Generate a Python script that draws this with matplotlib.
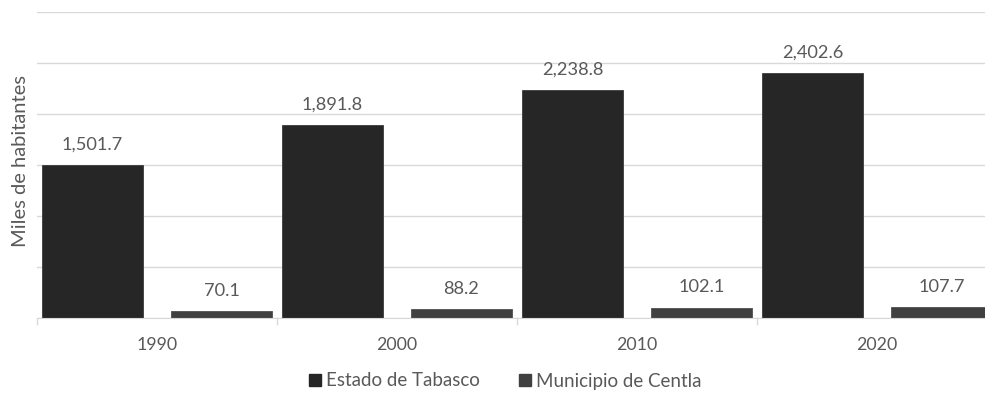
import numpy as np
import matplotlib.pyplot as plt
from matplotlib.patches import Patch

years = ['1990', '2000', '2010', '2020']
tabasco = [1501.7, 1891.8, 2238.8, 2402.6]
centla = [70.1, 88.2, 102.1, 107.7]
series_names = ['Estado de Tabasco', 'Municipio de Centla']

text_col = '#595959'
plt.rcParams['font.family'] = ['Lato', 'DejaVu Sans']

fig = plt.figure(figsize=(9.85, 4.0), dpi=100)
renderer = fig.canvas.get_renderer()


def fit_size(s, width_px, base=12.0):
    # font size giving the text about the width seen in the reference
    t = fig.text(0, 0, s, fontsize=base)
    w = t.get_window_extent(renderer).width
    t.remove()
    return base * width_px / w


lab_fs = fit_size('1,501.7', 61)
tick_fs = fit_size('1990', 41)
leg_fs = fit_size('Estado de Tabasco', 154)
ylab_fs = fit_size('Miles de habitantes', 172)

ax = fig.add_axes([37/985, 82/400, 1 - 37/985, 306/400])

x = np.arange(len(years))
w = 101/240
ax.bar(x + 55.5/240, tabasco, width=w, color='#262626', edgecolor='#3a3a3a', linewidth=0.6)
ax.bar(x + 184.5/240, centla, width=w, color='#404040', edgecolor='#505050', linewidth=0.6)

# data labels
for xi, v in zip(x + 55.5/240, tabasco):
    ax.annotate(f'{v:,.1f}', (xi, v), xytext=(0, 11), textcoords='offset points',
                ha='center', va='baseline', fontsize=lab_fs, color=text_col)
for xi, v in zip(x + 184.5/240, centla):
    ax.annotate(f'{v:,.1f}', (xi, v), xytext=(0, 11), textcoords='offset points',
                ha='center', va='baseline', fontsize=lab_fs, color=text_col)

ax.set_xlim(0, 948/240)
ax.set_ylim(0, 3000)
ax.set_yticks(np.arange(0, 3001, 500))
ax.yaxis.grid(True, color='#d9d9d9', linewidth=1)
ax.set_axisbelow(True)
ax.tick_params(axis='y', left=False, labelleft=False)

ax.set_xticks(x + 0.5)
ax.set_xticklabels(years, fontsize=tick_fs, color=text_col)
ax.tick_params(axis='x', which='major', length=0, pad=14)
ax.set_xticks(np.arange(0, 4), minor=True)
ax.tick_params(axis='x', which='minor', length=5, color='#d9d9d9', width=1)

for s in ['top', 'right', 'left']:
    ax.spines[s].set_visible(False)
ax.spines['bottom'].set_color('#d9d9d9')

fig.text(20.5/985, (400 - 161)/400, 'Miles de habitantes', rotation=90,
         ha='center', va='center', fontsize=ylab_fs, color=text_col)

handles = [Patch(color='#262626'), Patch(color='#404040')]
fig.legend(handles, series_names, loc='center', bbox_to_anchor=(505/985, 19/400),
           ncol=2, frameon=False, fontsize=leg_fs, labelcolor=text_col,
           handlelength=0.64, handleheight=0.64, handletextpad=0.25, columnspacing=2.1)

fig.savefig('out.png', dpi=100)
